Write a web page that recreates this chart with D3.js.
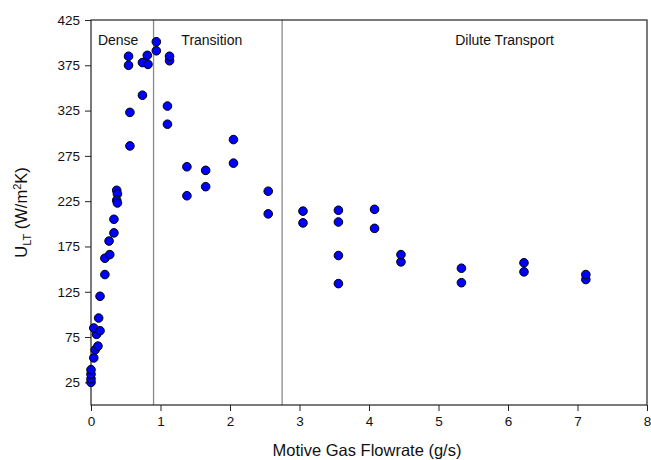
<!DOCTYPE html>
<html>
<head>
<meta charset="utf-8">
<script src="https://cdn.jsdelivr.net/npm/d3@7"></script>
<style>
  body { margin: 0; background: #fff; }
  svg { display: block; font-family: "Liberation Sans", Arial, sans-serif; }
</style>
</head>
<body>
<svg id="chart" width="651" height="460"></svg>
<script>
// Motive gas flowrate (g/s) for each measurement
const flowrate = [
  0.00, 0.00, 0.00, 0.00, 0.04, 0.06, 0.10, 0.08, 0.04, 0.13, 0.11,
  0.13, 0.20, 0.20, 0.27, 0.26, 0.33, 0.33, 0.37, 0.38, 0.37, 0.38,
  0.56, 0.56, 0.54, 0.54, 0.74, 0.74, 0.81, 0.82, 0.94, 0.94,
  1.10, 1.10, 1.13, 1.13,
  1.38, 1.38, 1.65, 1.65, 2.05, 2.05, 2.55, 2.55,
  3.05, 3.05, 3.56, 3.56, 3.56, 3.56, 4.08, 4.08, 4.46, 4.46,
  5.33, 5.33, 6.23, 6.23, 7.12, 7.12
];
// Overall heat transfer coefficient U_LT (W/m²K)
const uLT = [
  25, 29, 34, 39, 52, 61, 65, 78, 85, 82, 96,
  120, 144, 162, 166, 181, 190, 205, 237, 233, 226, 223,
  286, 323, 375, 385, 342, 378, 386, 376, 391, 401,
  310, 330, 380, 385,
  231, 263, 241, 259, 267, 293, 211, 236,
  201, 214, 134, 165, 202, 215, 195, 216, 158, 166,
  135, 151, 147, 157, 138.5, 144
];
const xTicks = [0, 1, 2, 3, 4, 5, 6, 7, 8];
const yTicks = [25, 75, 125, 175, 225, 275, 325, 375, 425];
// Flow-regime boundaries and labels
const regimeBounds = [0.9, 2.75];
const regimeNames = ["Dense", "Transition", "Dilute Transport"];
const regimeLabelX = [0.1, 1.30, 5.24];

const svg = d3.select("#chart");
const margin = { left: 91, right: 4, top: 20, bottom: 55 };
const W = 651, H = 460;
const innerW = W - margin.left - margin.right;
const innerH = H - margin.top - margin.bottom;

const x = d3.scaleLinear().domain([0, 8]).range([margin.left, margin.left + innerW]);
const y = d3.scaleLinear().domain([0, 425]).range([margin.top + innerH, margin.top]);

// Regime divider lines
svg.append("g").selectAll("line").data(regimeBounds).join("line")
  .attr("x1", d => x(d)).attr("x2", d => x(d))
  .attr("y1", y(425)).attr("y2", y(0))
  .attr("stroke", "#8a8a8a").attr("stroke-width", 1.3);

// Regime labels
svg.append("g").selectAll("text").data(regimeNames).join("text")
  .attr("x", (d, i) => x(regimeLabelX[i]))
  .attr("y", y(425) + 25)
  .attr("font-size", 14).attr("fill", "#111")
  .text(d => d);

// Axes
const xAxis = svg.append("g")
  .attr("transform", `translate(0,${y(0)})`)
  .call(d3.axisBottom(x).tickValues(xTicks).tickFormat(d3.format("d")).tickSizeOuter(0).tickSize(6).tickPadding(5));
const yAxis = svg.append("g")
  .attr("transform", `translate(${x(0)},0)`)
  .call(d3.axisLeft(y).tickValues(yTicks).tickFormat(d3.format("d")).tickSizeOuter(0).tickSize(6).tickPadding(5));
[xAxis, yAxis].forEach(g => {
  g.select(".domain").remove();
  g.selectAll("line").attr("stroke", "#222");
  g.selectAll("text").attr("font-size", 13.5).attr("fill", "#111")
    .attr("font-family", "'Liberation Sans', Arial, sans-serif");
});

// Plot frame
svg.append("rect")
  .attr("x", x(0)).attr("y", y(425))
  .attr("width", x(8) - x(0)).attr("height", y(0) - y(425))
  .attr("fill", "none").attr("stroke", "#222").attr("stroke-width", 1.2);

// Data points
svg.append("g").selectAll("circle").data(flowrate).join("circle")
  .attr("cx", d => x(d))
  .attr("cy", (d, i) => y(uLT[i]))
  .attr("r", 4.3)
  .attr("fill", "#0000ff")
  .attr("stroke", "#000").attr("stroke-width", 1);

// Axis titles
svg.append("text")
  .attr("x", (x(0) + x(8)) / 2 - 2).attr("y", 456)
  .attr("text-anchor", "middle").attr("font-size", 16.5).attr("fill", "#111")
  .text("Motive Gas Flowrate (g/s)");

const yt = svg.append("text")
  .attr("transform", `translate(27,${(y(0) + y(425)) / 2}) rotate(-90)`)
  .attr("text-anchor", "middle").attr("font-size", 16.5).attr("fill", "#111");
yt.append("tspan").text("U");
yt.append("tspan").attr("font-size", 11).attr("dy", 4).text("LT");
yt.append("tspan").attr("dy", -4).text(" (W/m");
yt.append("tspan").attr("font-size", 11).attr("dy", -6).text("2");
yt.append("tspan").attr("dy", 6).text("K)");
</script>
</body>
</html>
